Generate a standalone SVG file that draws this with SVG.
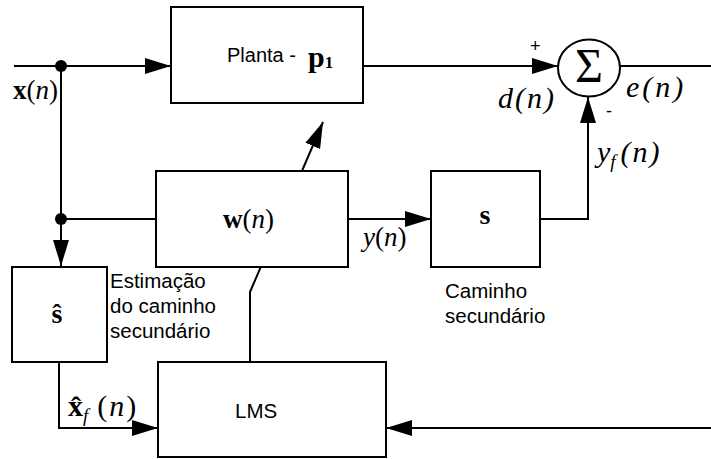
<svg xmlns="http://www.w3.org/2000/svg" width="711" height="459" viewBox="0 0 711 459">
  <style>
    .wire { fill: none; stroke: #000; stroke-width: 2; }
    .box { fill: #fff; stroke: #000; stroke-width: 2; }
    .sans { font-family: "Liberation Sans", Arial, sans-serif; fill: #000; }
    .math { font-family: "Liberation Serif", "Times New Roman", serif; fill: #000; }
    .it { font-style: italic; }
    .bf { font-weight: bold; }
  </style>
  <defs>
    <marker id="arrow" viewBox="0 0 26 16" markerWidth="26" markerHeight="16" refX="26" refY="8" orient="auto" markerUnits="userSpaceOnUse">
      <path d="M0,0 L26,8 L0,16 z" fill="#000"/>
    </marker>
  </defs>

  <!-- signal paths -->
  <g id="connectors">
    <line class="wire" x1="14" y1="66" x2="171" y2="66" marker-end="url(#arrow)"/>
    <line class="wire" x1="61" y1="66" x2="61" y2="266" marker-end="url(#arrow)"/>
    <line class="wire" x1="61" y1="219" x2="156" y2="219"/>
    <line class="wire" x1="363" y1="66" x2="558" y2="66" marker-end="url(#arrow)"/>
    <line class="wire" x1="620" y1="66" x2="711" y2="66"/>
    <line class="wire" x1="348" y1="219" x2="431" y2="219" marker-end="url(#arrow)"/>
    <path class="wire" d="M540,219 H588 V97" marker-end="url(#arrow)"/>
    <path class="wire" d="M59,362 V428 H158" marker-end="url(#arrow)"/>
    <path class="wire" d="M711,428 H386" marker-end="url(#arrow)"/>
    <!-- adaptation arrow crossing the filter -->
    <path class="wire" d="M250,362 V292 L323,122" marker-end="url(#arrow)"/>
    <circle cx="61" cy="66" r="6" fill="#000"/>
    <circle cx="61" cy="219" r="6" fill="#000"/>
  </g>

  <g id="planta">
    <rect class="box" x="171" y="7" width="192" height="96"/>
    <text class="sans" x="227" y="62" font-size="20">Planta - </text>
    <text class="math bf" x="308" y="67" font-size="30">p<tspan font-size="17" dy="1">1</tspan></text>
  </g>

  <g id="somador">
    <ellipse class="box" cx="589" cy="68" rx="31" ry="28.5"/>
    <text class="math" x="589" y="82" font-size="48" text-anchor="middle">Σ</text>
    <text class="sans" x="530" y="52" font-size="18">+</text>
    <text class="sans" x="606" y="117" font-size="18">-</text>
  </g>

  <g id="filtro-w">
    <rect class="box" x="156" y="171" width="192" height="96"/>
    <text class="math" x="223" y="228" font-size="27"><tspan class="bf">w</tspan>(<tspan class="it">n</tspan>)</text>
  </g>

  <g id="caminho-s">
    <rect class="box" x="431" y="171" width="109" height="96"/>
    <text class="math bf" x="485" y="224" font-size="28" text-anchor="middle">s</text>
    <text class="sans" x="445" y="298" font-size="20.5">Caminho</text>
    <text class="sans" x="445" y="323" font-size="20.5">secundário</text>
  </g>

  <g id="estimativa-s">
    <rect class="box" x="12" y="267" width="95" height="95"/>
    <text class="math bf" x="57" y="323" font-size="28" text-anchor="middle">ŝ</text>
    <text class="sans" x="110" y="288" font-size="20.5">Estimação</text>
    <text class="sans" x="110" y="313" font-size="20.5">do caminho</text>
    <text class="sans" x="110" y="338" font-size="20.5">secundário</text>
  </g>

  <g id="lms">
    <rect class="box" x="158" y="362" width="228" height="95"/>
    <text class="sans" x="235" y="418" font-size="20.5">LMS</text>
  </g>

  <!-- signal labels -->
  <g id="rotulos">
    <text class="math" x="13" y="99" font-size="27"><tspan class="bf">x</tspan>(<tspan class="it">n</tspan>)</text>
    <text class="math it" x="498" y="108" font-size="30" letter-spacing="2">d(n)</text>
    <text class="math it" x="626" y="97" font-size="30" letter-spacing="3">e(n)</text>
    <text class="math it" x="597" y="162" font-size="30">y<tspan font-size="19" dy="6">f</tspan><tspan dy="-6" dx="5" letter-spacing="2">(n)</tspan></text>
    <text class="math" x="363" y="246" font-size="27"><tspan class="it">y</tspan>(<tspan class="it">n</tspan>)</text>
    <text class="math" x="68" y="416" font-size="30"><tspan class="bf">x̂</tspan><tspan class="it" font-size="19" dy="6">f</tspan><tspan dy="-6" dx="9" letter-spacing="2">(<tspan class="it">n</tspan>)</tspan></text>
  </g>
</svg>
